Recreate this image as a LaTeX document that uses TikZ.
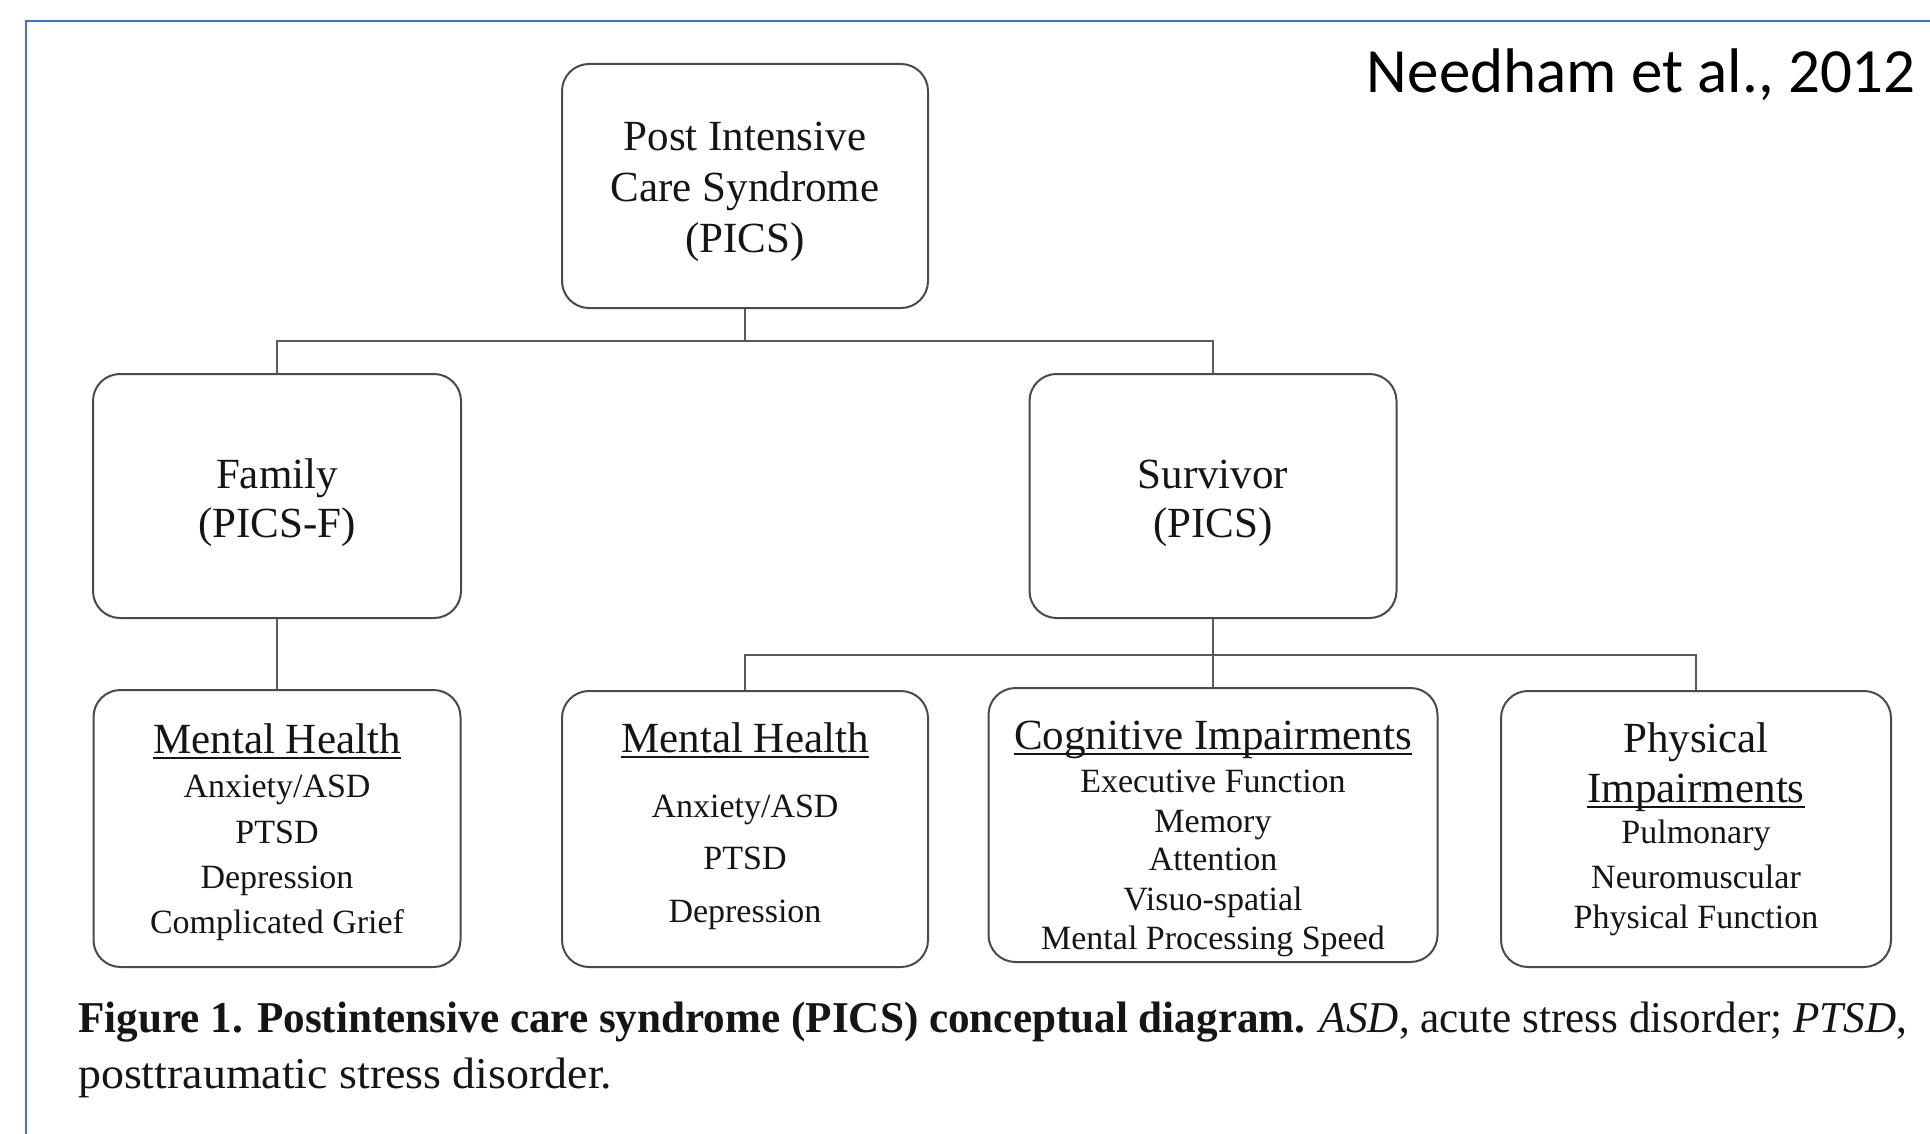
\documentclass[tikz,border=0pt]{standalone}
\usepackage{fontspec}
\usepackage{graphicx}
\setmainfont{Liberation Serif}
\newfontfamily\carlitofont{Carlito}
\definecolor{framebl}{HTML}{4472C4}
\definecolor{boxgray}{HTML}{4A4A4A}
\definecolor{linkgray}{HTML}{5A5A5A}
\definecolor{ink}{HTML}{151515}
\newcommand{\ulin}[1]{\setbox0\hbox{#1}\rlap{\rule[-6pt]{\wd0}{2.5pt}}\box0}
\tikzset{
  box/.style={draw=boxgray, line width=2pt, rounded corners=27pt, inner sep=0pt, minimum height=244pt},
  link/.style={draw=linkgray, line width=2pt},
  big/.style={font=\fontsize{43}{50}\selectfont, text=ink, inner sep=0pt, anchor=base},
  small/.style={font=\fontsize{34}{40}\selectfont, text=ink, inner sep=0pt, anchor=base},
  capt/.style={font=\fontsize{44}{50}\selectfont, text=ink, inner sep=0pt, anchor=base west},
}
\begin{document}
\begin{tikzpicture}[x=1pt, y=-1pt]
\useasboundingbox (0,0) rectangle (1930,1134);
\fill[white] (0,0) rectangle (1930,1134);
\draw[framebl, line width=2.5pt] (26,1150) -- (26,21) -- (1950,21);

% boxes
\node[box, minimum width=366pt] (top) at (745,186) {};
\node[box, minimum width=368pt] (family) at (277,496) {};
\node[box, minimum width=367pt] (survivor) at (1213,496) {};
\node[box, minimum width=367pt, minimum height=277pt] (mhf) at (277,828.5) {};
\node[box, minimum width=366pt, minimum height=276pt] (mhs) at (745,829) {};
\node[box, minimum width=449pt, minimum height=274pt] (cog) at (1213,825) {};
\node[box, minimum width=390pt, minimum height=276pt] (phys) at (1696,829) {};

% connectors
\coordinate (ja) at (745,341);
\coordinate (jb) at (1213,655);
\draw[link] (top.south) -- (ja);
\draw[link] (family.north) |- (ja) -| (survivor.north);
\draw[link] (family.south) -- (family.south |- mhf.north);
\draw[link] (survivor.south) -- (jb);
\draw[link] (mhs.north) |- (jb) -| (phys.north);
\draw[link] (jb) -- (cog.north);

% top box text
\node[big] (ta) at (745,151) {Post Intensive};
\node[big] (tb) at (745,202) {Care Syndrome};
\node[big] (tc) at (745,252) {(PICS)};
% family / survivor
\node[big] (fa) at (277,488) {Family};
\node[big] (fb) at (277,537) {(PICS-F)};
\node[big] (sa) at (1213,488) {Survivor};
\node[big] (sb) at (1213,537) {(PICS)};
% mental health (family)
\node[big] (ma) at (277,753) {\ulin{Mental Health}};
\node[small] (mb) at (277,797) {Anxiety/ASD};
\node[small] (mc) at (277,843) {PTSD};
\node[small] (md) at (277,888) {Depression};
\node[small] (me) at (277,933) {Complicated Grief};
% mental health (survivor)
\node[big] (na) at (745,752) {\ulin{Mental Health}};
\node[small] (nb) at (745,817) {Anxiety/ASD};
\node[small] (nc) at (745,869) {PTSD};
\node[small] (nd) at (745,922) {Depression};
% cognitive
\node[big] (ca) at (1213,749) {\ulin{Cognitive Impairments}};
\node[small] (cb) at (1213,792) {Executive Function};
\node[small] (cc) at (1213,832) {Memory};
\node[small] (cd) at (1213,870) {Attention};
\node[small] (ce) at (1213,910) {Visuo-spatial};
\node[small] (cf) at (1213,949) {Mental Processing Speed};
% physical
\node[big] (pa) at (1696,752) {Physical};
\node[big] (pb) at (1696,802) {\ulin{Impairments}};
\node[small] (pc) at (1696,843) {Pulmonary};
\node[small] (pd) at (1696,888) {Neuromuscular};
\node[small] (pe) at (1696,928) {Physical Function};

% citation
\node[font=\carlitofont\fontsize{63}{70}\selectfont, text=black, inner sep=0pt, anchor=base east] (cite) at (1916,93) {Needham et al., 2012};

% caption
\node[capt] (capa) at (78,1032) {\resizebox{1829pt}{\height}{\textbf{Figure 1. Postintensive care syndrome (PICS) conceptual diagram.} \textit{ASD}, acute stress disorder; \textit{PTSD},}};
\node[capt] (capb) at (78,1088) {\resizebox{534pt}{\height}{posttraumatic stress disorder.}};
\end{tikzpicture}
\end{document}
